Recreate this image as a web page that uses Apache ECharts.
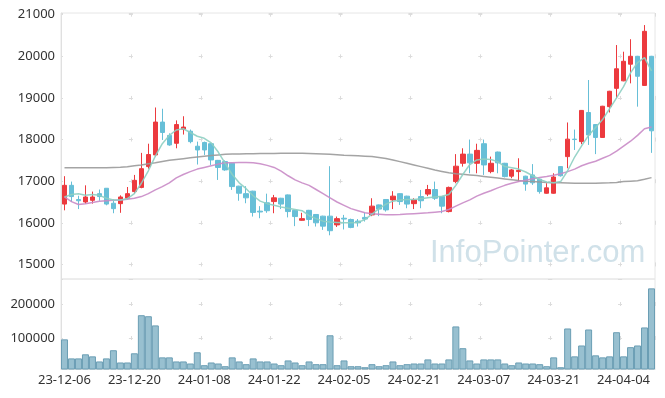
<!DOCTYPE html>
<html>
<head>
<meta charset="utf-8">
<script src="https://cdn.jsdelivr.net/npm/echarts@6/dist/echarts.min.js"></script>
<style>
html, body { margin: 0; padding: 0; background: #fff; }
#chart { width: 665px; height: 398px; }
</style>
</head>
<body>
<div id="chart"></div>
<script>
var dates = ['23-12-06','23-12-07','23-12-08','23-12-11','23-12-12','23-12-13','23-12-14','23-12-15','23-12-18','23-12-19',
    '23-12-20','23-12-21','23-12-22','23-12-26','23-12-27','23-12-28','24-01-02','24-01-03','24-01-04','24-01-05',
    '24-01-08','24-01-09','24-01-10','24-01-11','24-01-12','24-01-15','24-01-16','24-01-17','24-01-18','24-01-19',
    '24-01-22','24-01-23','24-01-24','24-01-25','24-01-26','24-01-29','24-01-30','24-01-31','24-02-01','24-02-02',
    '24-02-05','24-02-06','24-02-07','24-02-08','24-02-13','24-02-14','24-02-15','24-02-16','24-02-19','24-02-20',
    '24-02-21','24-02-22','24-02-23','24-02-26','24-02-27','24-02-28','24-02-29','24-03-04','24-03-05','24-03-06',
    '24-03-07','24-03-08','24-03-11','24-03-12','24-03-13','24-03-14','24-03-15','24-03-18','24-03-19','24-03-20',
    '24-03-21','24-03-22','24-03-25','24-03-26','24-03-27','24-03-28','24-03-29','24-04-01','24-04-02','24-04-03',
    '24-04-04','24-04-05','24-04-08','24-04-09','24-04-11'];

var opens = [16450,16900,16560,16500,16540,16700,16830,16470,16460,16590,
    16750,16850,17350,17630,18420,18100,17910,18250,18200,17840,
    17930,17900,17500,17470,17430,16880,16700,16760,16280,16480,
    16510,16590,16670,16300,16060,16300,16200,16160,16160,15950,
    16110,16080,16040,16130,16190,16430,16560,16550,16700,16640,
    16460,16630,16690,16800,16630,16270,16990,17430,17650,17430,
    17900,17230,17700,17430,17120,17230,17120,17150,17050,16710,
    16710,17350,17590,18010,17950,18650,18360,18050,18790,19230,
    19410,19810,20000,19300,20000];
var closes = [16900,16630,16530,16620,16620,16630,16450,16340,16620,16700,
    17020,17300,17640,18420,18170,17870,18360,18300,17950,17750,
    17750,17510,17330,17270,16870,16710,16600,16250,16260,16290,
    16600,16450,16270,16150,16100,16080,16000,15920,15810,16100,
    16090,15890,16000,16090,16400,16330,16310,16640,16510,16450,
    16550,16530,16800,16590,16400,16850,17360,17650,17440,17740,
    17390,17430,17440,17110,17270,17260,16930,16960,16750,16840,
    17100,17130,18010,18000,18700,18110,18050,18800,19160,19700,
    19880,20000,19520,20600,18210];
var lows = [16300,16500,16330,16460,16460,16530,16420,16230,16240,16560,
    16700,16830,17300,17590,17990,17850,17790,18120,17910,17400,
    17630,17390,17030,17250,16790,16530,16470,16150,16110,16240,
    16230,16330,16130,15920,16050,15920,15910,15830,15700,15900,
    15840,15870,15910,16030,16160,16160,16270,16330,16430,16350,
    16330,16350,16640,16550,16230,16250,16950,17350,17190,17190,
    17150,17190,17190,17090,17070,16990,16770,16910,16700,16700,
    16700,17110,17310,17750,17890,17870,17650,18040,18650,18990,
    19400,19350,18790,19290,17680];
var highs = [17120,16990,16650,16900,16750,16800,16830,16560,16660,16860,
    17150,17680,17900,18770,18740,18150,18460,18560,18240,17950,
    17950,17910,17510,17500,17440,16890,16880,16770,16400,16700,
    16670,16600,16680,16310,16240,16310,16210,16170,17360,16150,
    16190,16100,16090,16240,16590,16440,16570,16760,16710,16650,
    16590,16790,16910,16990,16640,16870,17650,17790,18000,17900,
    18000,17590,17710,17440,17290,17550,17130,17410,17060,16950,
    17190,17360,18410,18240,18710,19430,18370,18810,19170,20270,
    20110,20410,20010,20750,20010];

var volumes = [96000,40000,40000,52000,46000,31000,40000,64000,28000,28000,
    55000,167000,164000,137000,43000,43000,31000,31000,25000,58000,
    20000,28000,25000,17000,43000,31000,23000,40000,31000,31000,
    25000,20000,34000,28000,20000,31000,23000,23000,108000,20000,
    34000,17000,17000,14000,23000,17000,20000,31000,20000,23000,
    25000,25000,37000,25000,25000,37000,134000,70000,34000,25000,
    37000,37000,37000,25000,20000,28000,25000,25000,23000,17000,
    43000,14000,128000,46000,78000,125000,49000,43000,46000,117000,
    46000,73000,78000,131000,246000];

var ma5 = [16620,16680,16700,16660,16680,16660,16590,16550,16550,16580,
    16700,16950,17250,17600,17900,18100,18230,18260,18170,18080,
    18030,17920,17700,17430,17160,16960,16820,16650,16520,16460,
    16420,16380,16350,16320,16290,16170,16100,16040,16020,16010,
    16000,16000,16010,16080,16210,16340,16450,16520,16550,16560,
    16560,16580,16600,16620,16640,16680,16900,17160,17400,17510,
    17530,17520,17470,17350,17320,17290,17220,17130,17040,16980,
    16960,16990,17250,17580,17850,18100,18290,18480,18740,19000,
    19270,19600,19850,19970,19650];
var ma20 = [16620,16510,16440,16460,16490,16520,16530,16540,16548,16565,
    16590,16630,16700,16790,16870,16960,17080,17160,17230,17290,
    17330,17370,17410,17440,17445,17450,17450,17440,17420,17380,
    17330,17240,17130,17030,16960,16900,16800,16700,16600,16500,
    16420,16340,16290,16240,16215,16205,16195,16195,16200,16210,
    16220,16230,16240,16255,16270,16320,16400,16480,16550,16640,
    16710,16770,16840,16900,16950,16990,17020,17060,17090,17110,
    17140,17180,17230,17290,17370,17430,17480,17550,17620,17720,
    17840,17960,18100,18260,18300];
var ma60 = [17320,17320,17320,17320,17320,17320,17325,17330,17335,17345,
    17370,17390,17420,17440,17470,17500,17520,17540,17560,17580,
    17600,17615,17630,17645,17650,17655,17660,17660,17665,17665,
    17665,17668,17668,17668,17668,17665,17660,17655,17645,17635,
    17620,17615,17610,17600,17590,17570,17545,17510,17470,17430,
    17390,17350,17310,17270,17235,17200,17180,17165,17150,17135,
    17115,17095,17075,17055,17035,17015,17000,16990,16980,16970,
    16965,16960,16955,16950,16950,16950,16950,16955,16960,16970,
    16990,17000,17010,17045,17085];

var upColor = '#ec3a3e';
var downColor = '#67bfd7';
var gridMark = '#dcdcdc';
var labelFont = { color: '#333', fontSize: 13, fontFamily: 'Noto Sans' };

var candles = dates.map(function (d, i) {
    return [opens[i], closes[i], lows[i], highs[i]];
});

var chart = echarts.init(document.getElementById('chart'));
chart.setOption({
    animation: false,
    backgroundColor: '#fff',
    graphic: [{
        type: 'text',
        left: 430,
        top: 238,
        z: 0,
        style: {
            text: 'InfoPointer.com',
            fill: '#d0e1e9',
            font: '31px "Liberation Sans"'
        }
    }],
    grid: [
        {left: 61, top: 13, width: 594, height: 266, show: true, borderColor: '#e6e6e6', borderWidth: 1},
        {left: 61, top: 279, width: 594, height: 90, show: true, borderColor: '#e6e6e6', borderWidth: 1}
    ],
    xAxis: [
        {
            type: 'category', gridIndex: 0, data: dates,
            axisLine: {show: false}, axisTick: {show: false}, axisLabel: {show: false},
            splitLine: {show: true, interval: 9, lineStyle: {color: gridMark, type: [4, 37.63], dashOffset: 0.33}}
        },
        {
            type: 'category', gridIndex: 1, data: dates,
            axisLine: {lineStyle: {color: '#e0e0e0'}}, axisTick: {show: false},
            axisLabel: Object.assign({interval: 9, margin: 5}, labelFont),
            splitLine: {show: true, interval: 9, lineStyle: {color: gridMark, type: [4, 30], dashOffset: 11}}
        }
    ],
    yAxis: [
        {
            type: 'value', gridIndex: 0, min: 14650, max: 21040, splitNumber: 5,
            axisLine: {show: true, lineStyle: {color: '#e0e0e0'}}, axisTick: {show: false},
            axisLabel: Object.assign({
                margin: 6,
                formatter: function (v) { return v % 1000 === 0 ? v : ''; }
            }, labelFont),
            splitLine: {lineStyle: {color: gridMark, type: [4, 65.88], dashOffset: 2}}
        },
        {
            type: 'value', gridIndex: 1, min: 8800, max: 273500, splitNumber: 3,
            axisLine: {show: true, lineStyle: {color: '#e0e0e0'}}, axisTick: {show: false},
            axisLabel: Object.assign({
                margin: 6,
                formatter: function (v) { return v % 100000 === 0 && v > 0 ? v : ''; }
            }, labelFont),
            splitLine: {lineStyle: {color: gridMark, type: [4, 65.88], dashOffset: 2}}
        }
    ],
    series: [
        {
            type: 'candlestick', xAxisIndex: 0, yAxisIndex: 0, data: candles, barWidth: 5, z: 2,
            itemStyle: {color: upColor, color0: downColor, borderColor: upColor, borderColor0: downColor, borderWidth: 1}
        },
        {
            type: 'line', xAxisIndex: 0, yAxisIndex: 0, data: ma60, showSymbol: false, z: 3,
            lineStyle: {color: '#9a9a9a', width: 1.5, opacity: 0.9}
        },
        {
            type: 'line', xAxisIndex: 0, yAxisIndex: 0, data: ma20, showSymbol: false, z: 3,
            lineStyle: {color: '#c98bc6', width: 1.5, opacity: 0.9}
        },
        {
            type: 'line', xAxisIndex: 0, yAxisIndex: 0, data: ma5, showSymbol: false, z: 3,
            lineStyle: {color: '#8dcfc2', width: 1.5, opacity: 0.9}
        },
        {
            type: 'bar', xAxisIndex: 1, yAxisIndex: 1, data: volumes, barCategoryGap: '0%', clip: true,
            itemStyle: {color: '#98c0d0', borderColor: '#6b9eb4', borderWidth: 1}
        }
    ]
});
</script>
</body>
</html>
